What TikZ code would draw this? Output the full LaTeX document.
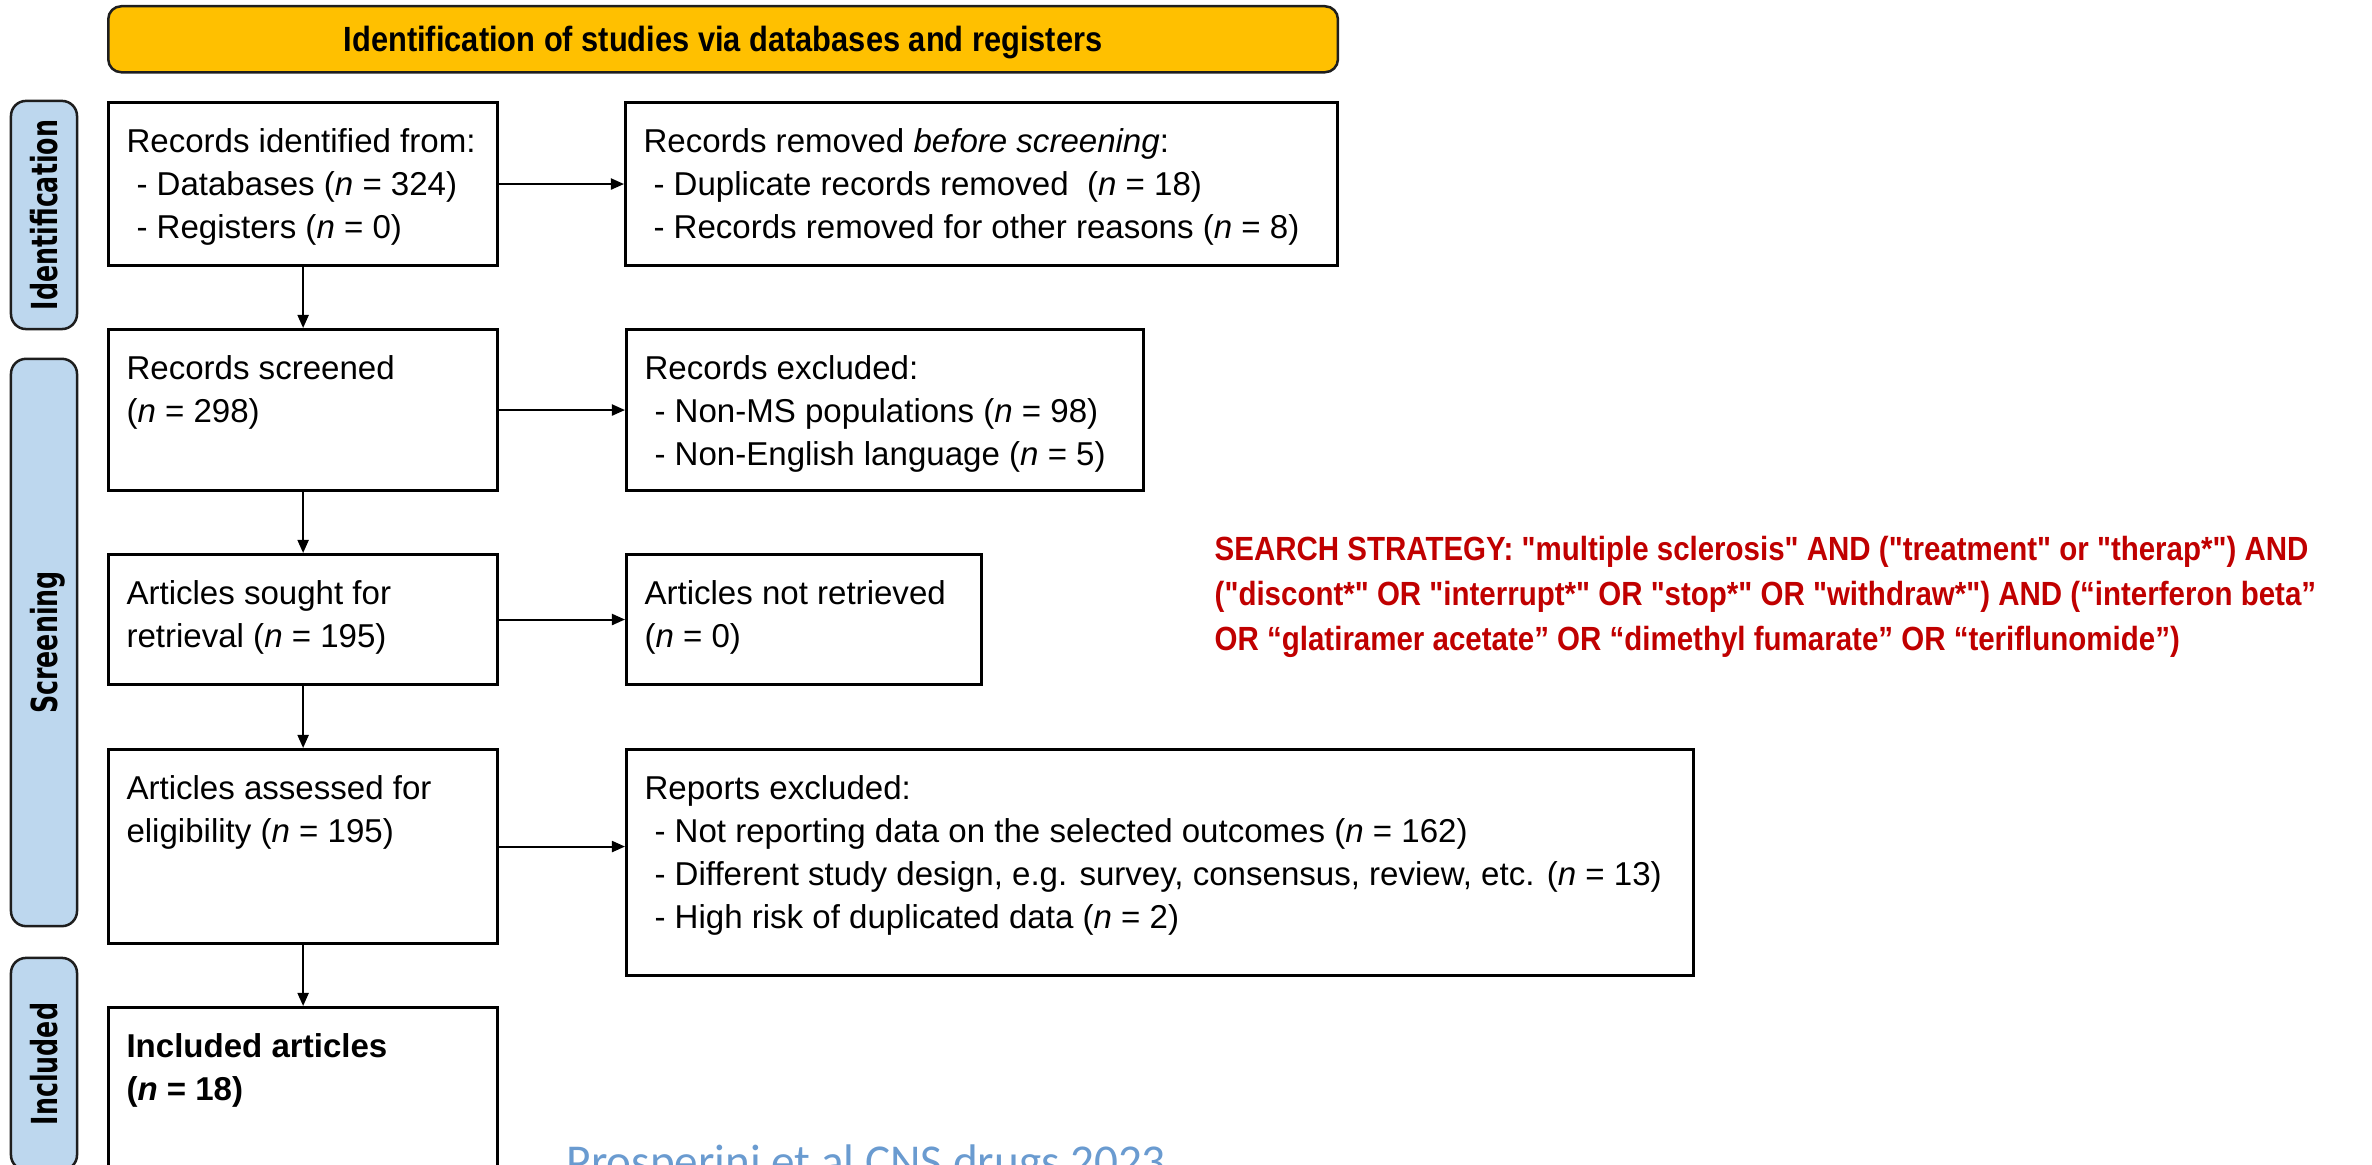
\documentclass[tikz,border=0pt]{standalone}
\usepackage{fontspec}
\usepackage{graphicx}
\setmainfont{Liberation Sans}
\newfontfamily\condfont{Liberation Sans}[FakeStretch=0.88]
\newfontfamily\sidefont{DejaVu Sans}
\newfontfamily\calfont{Carlito}
\usetikzlibrary{arrows.meta}
\definecolor{bannerfill}{RGB}{255,192,0}
\definecolor{barfill}{RGB}{189,215,238}
\definecolor{searchred}{RGB}{192,0,0}
\definecolor{citeblue}{RGB}{106,155,208}
\definecolor{edgegray}{RGB}{30,30,30}
\newcommand{\boxtxt}[3]{\parbox[t][#2][t]{#1}{\rule{0pt}{0.5cm}#3}}
\newcommand{\ind}{\hspace*{0.1cm}}
\newcommand{\sidelabel}[1]{\scalebox{0.705}[1]{#1}}
\begin{document}
\begin{tikzpicture}[x=0.01cm,y=-0.01cm,
  flowbox/.style={draw=black, line width=0.03cm, fill=white, anchor=north west,
    inner xsep=0.18cm, inner ysep=0pt, font=\fontsize{9.4}{12.23}\selectfont},
  bannerbox/.style={draw=edgegray, line width=0.025cm, fill=bannerfill, rounded corners=0.13cm,
    anchor=north west, inner sep=0pt, text height=0.25cm, text depth=0cm,
    font=\condfont\bfseries\fontsize{9.96}{12}\selectfont},
  sidebar/.style={draw=edgegray, line width=0.025cm, fill=barfill, rounded corners=0.15cm,
    rotate=90, minimum height=0.66cm, inner sep=0pt, text height=0.27cm, text depth=0cm,
    font=\sidefont\bfseries\fontsize{10.2}{12}\selectfont},
  arr/.style={line width=0.02cm, -{Triangle[length=0.13cm,width=0.11cm]}},
  searchtext/.style={anchor=north west, inner sep=0pt, text=searchred,
    font=\condfont\bfseries\fontsize{9.53}{12.8}\selectfont},
]
\useasboundingbox (0,0) rectangle (2372,1165);
\clip (0,0) rectangle (2372,1165);

% banner
\node[bannerbox, minimum width=12.29cm, minimum height=0.66cm] (ban) at (107,5)
  {Identification of studies via databases and registers};

% side bars
\node[sidebar, minimum width=2.28cm] (sb1) at (44,215) {\sidelabel{Identification}};
\node[sidebar, minimum width=5.67cm] (sb2) at (44,642.5) {\sidelabel{Screening}};
\node[sidebar, minimum width=2.12cm] (sb3) at (44,1064) {\sidelabel{Included}};

% left column
\node[flowbox, minimum width=3.89cm, minimum height=1.63cm] (b1) at (107,101)
  {\boxtxt{3.53cm}{1.63cm}{Records identified from:\\\ind- Databases (\textit{n} = 324)\\\ind- Registers (\textit{n} = 0)}};
\node[flowbox, minimum width=3.89cm, minimum height=1.61cm] (b3) at (107,328)
  {\boxtxt{3.53cm}{1.61cm}{Records screened\\(\textit{n} = 298)}};
\node[flowbox, minimum width=3.89cm, minimum height=1.30cm] (b5) at (107,553)
  {\boxtxt{3.53cm}{1.30cm}{Articles sought for\\retrieval (\textit{n} = 195)}};
\node[flowbox, minimum width=3.89cm, minimum height=1.94cm] (b7) at (107,748)
  {\boxtxt{3.53cm}{1.94cm}{Articles assessed for\\eligibility (\textit{n} = 195)}};
\node[flowbox, minimum width=3.89cm, minimum height=1.70cm] (b9) at (107,1006)
  {\boxtxt{3.53cm}{1.70cm}{\textbf{Included articles}\\\textbf{(\textit{n} = 18)}}};

% right column
\node[flowbox, minimum width=7.12cm, minimum height=1.63cm] (b2) at (624,101)
  {\boxtxt{6.76cm}{1.63cm}{Records removed \textit{before screening}:\\\ind- Duplicate records removed\ \ (\textit{n} = 18)\\\ind- Records removed for other reasons (\textit{n} = 8)}};
\node[flowbox, minimum width=5.17cm, minimum height=1.61cm] (b4) at (625,328)
  {\boxtxt{4.81cm}{1.61cm}{Records excluded:\\\ind- Non-MS populations (\textit{n} = 98)\\\ind- Non-English language (\textit{n} = 5)}};
\node[flowbox, minimum width=3.55cm, minimum height=1.30cm] (b6) at (625,553)
  {\boxtxt{3.19cm}{1.30cm}{Articles not retrieved\\(\textit{n} = 0)}};
\node[flowbox, minimum width=10.66cm, minimum height=2.26cm] (b8) at (625,748)
  {\boxtxt{10.30cm}{2.26cm}{Reports excluded:\\\ind- Not reporting data on the selected outcomes (\textit{n} = 162)\\\ind- Different study design, e.g. survey, consensus, review, etc. (\textit{n} = 13)\\\ind- High risk of duplicated data (\textit{n} = 2)}};

% connectors
\draw[arr] (b1.south) -- (b3.north);
\draw[arr] (b3.south) -- (b5.north);
\draw[arr] (b5.south) -- (b7.north);
\draw[arr] (b7.south) -- (b9.north);
\draw[arr] (b1.east) -- (b2.west);
\draw[arr] (b3.east) -- (b4.west);
\draw[arr] (b5.east) -- (b6.west);
\draw[arr] (b7.east) -- (b7.east -| b8.west);

% search strategy
\node[searchtext] (search) at (1214,510) {\parbox[t]{11.5cm}{\rule{0pt}{0.5cm}SEARCH STRATEGY: "multiple sclerosis" AND ("treatment" or "therap*") AND\\("discont*" OR "interrupt*" OR "stop*" OR "withdraw*") AND (“interferon beta”\\OR “glatiramer acetate” OR “dimethyl fumarate” OR “teriflunomide”)}};

% citation
\node[anchor=base west, inner sep=0pt, text=citeblue, font=\calfont\fontsize{13.4}{16}\selectfont] (cite) at (566,1178) {Prosperini et al CNS drugs 2023};
\end{tikzpicture}
\end{document}
